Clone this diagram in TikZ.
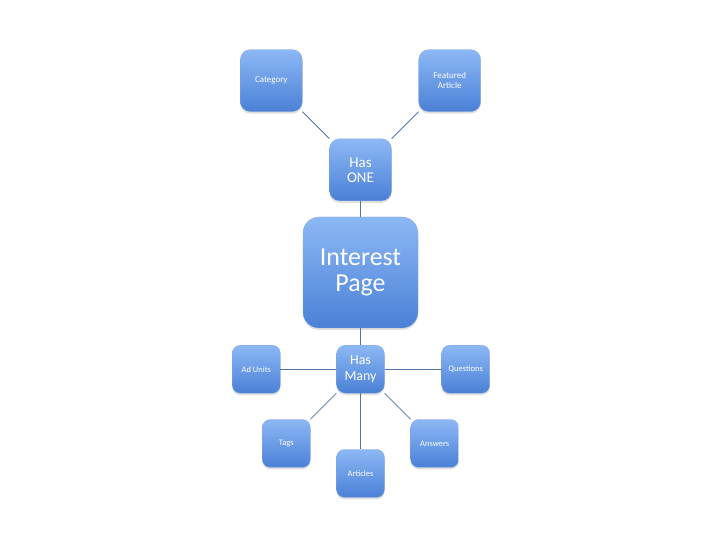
\documentclass[tikz,border=0pt]{standalone}
\usepackage{fontspec}
\setmainfont{Carlito}
\usepackage{xcolor}
\usepackage{tikz}
\usetikzlibrary{positioning,shadows}

\definecolor{boxtop}{HTML}{8DB8F5}
\definecolor{boxbottom}{HTML}{4A80D6}
\definecolor{linkblue}{HTML}{4F76A8}

\begin{document}
\begin{tikzpicture}[
				x=1bp, y=1bp,
				bluebox/.style={
					rectangle, rounded corners=10bp,
					top color=boxtop, bottom color=boxbottom,
					draw=boxbottom!70!white, very thin,
					drop shadow={shadow xshift=0bp, shadow yshift=-2bp, opacity=0.25},
					text=white, align=center, inner sep=2bp
				},
				bigbox/.style={bluebox, rounded corners=16bp,
					minimum width=115bp, minimum height=111bp,
					font=\fontsize{26}{26}\selectfont},
				topbox/.style={bluebox, minimum size=62bp,
					font=\fontsize{9}{10}\selectfont},
				smallbox/.style={bluebox, rounded corners=8bp, minimum size=48bp,
					font=\fontsize{8.5}{10}\selectfont},
				link/.style={draw=linkblue, line width=0.8bp}
				]
				\useasboundingbox (0,0) rectangle (720,540);
				
				% centre
				\node[bigbox] (page) at (360.5,267.5) {Interest\\Page};
				
				% has one
				\node[topbox, font=\fontsize{15}{15}\selectfont, above=16bp of page] (one) {Has\\ONE};
				\node[topbox, above left=27bp and 27bp of one] (category) {Category};
				\node[topbox, above right=27bp and 27bp of one] (featured) {Featured\\Article};
				
				% has many
				\node[smallbox, rounded corners=9bp, font=\fontsize{14}{15.5}\selectfont, below=17bp of page] (many) {Has\\Many};
				\node[smallbox, left=56bp of many] (adunits) {Ad Units};
				\node[smallbox, right=57bp of many] (questions) {Questions};
				\node[smallbox, below left=26bp and 26bp of many] (tags) {Tags};
				\node[smallbox, below right=26bp and 26bp of many] (answers) {Answers};
				\node[smallbox, below=56bp of many] (articles) {Articles};
				
				% Links
				\draw[link] (one) -- (page);
				\draw[link] (page) -- (many);
				\draw[link] (category) -- (one);
				\draw[link] (featured) -- (one);
				\foreach \leaf in {adunits,questions,tags,answers,articles}
					\draw[link] (many) -- (\leaf);
				
			\end{tikzpicture}
\end{document}
